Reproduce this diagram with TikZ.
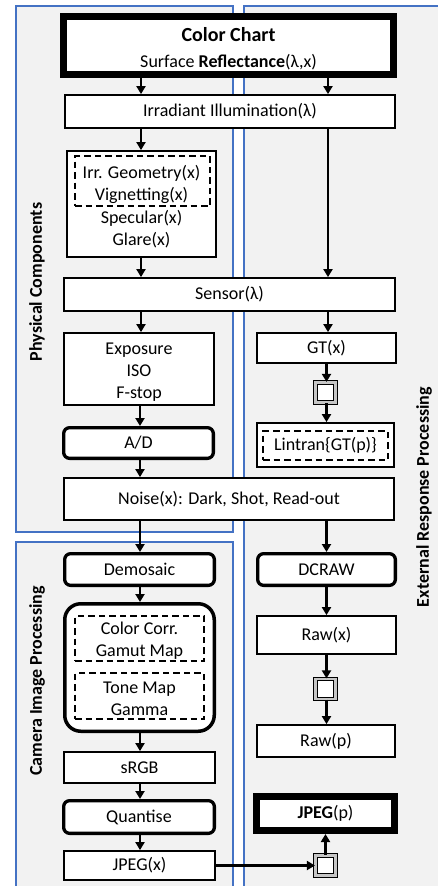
\documentclass[tikz,border=0pt]{standalone}
\usepackage{fontspec}
\setmainfont{Carlito}
\usetikzlibrary{arrows.meta}
\definecolor{panelfill}{HTML}{F2F2F2}
\definecolor{panelline}{HTML}{4472C4}
\begin{document}
\begin{tikzpicture}[x=1pt,y=-1pt,
  every node/.style={font=\fontsize{18}{22}\selectfont, inner sep=0pt},
  box/.style={draw, line width=1.8pt, fill=white, align=center},
  roundbox/.style={box, line width=3.3pt, rounded corners=6pt},
  heavybox/.style={box, line width=7pt},
  dashframe/.style={draw, line width=2pt, dash pattern=on 6.5pt off 4pt, align=center},
  relay/.style={draw, line width=1.2pt, double=gray!45, double distance=2.4pt, fill=white, minimum size=20pt},
  panel/.style={draw=panelline, line width=1.3pt, fill=panelfill},
  arr/.style={line width=2.6pt, -{Triangle[width=9pt,length=8pt]}},
  side/.style={font=\fontsize{18}{22}\selectfont\bfseries, rotate=90}
]
\useasboundingbox (0,0) rectangle (438,886);

% background panels
\begin{scope}
  \clip (0,0) rectangle (438,886);
  \draw[panel] (16,6) rectangle (233,532);
  \draw[panel] (16,542) rectangle (233,900);
  \draw[panel] (244,6) rectangle (460,900);
\end{scope}

% panel titles
\node[side] (physlabel) at (37,282) {Physical Components};
\node[side] (camlabel) at (37,681) {Camera Image Processing};
\node[side] (extlabel) at (424,497) {External Response Processing};

% column guides for the connectors
\coordinate (colL) at (141,0);
\coordinate (colR) at (328,0);
\coordinate (colLb) at (140,0);
\coordinate (colRb) at (326.5,0);

% shared stages
\node[heavybox, minimum width=330pt, minimum height=58pt] (chart) at (228.5,45.5) {};
\node[align=center] (charttext) at (228.5,48.5)
  {{\fontsize{20}{24}\selectfont\bfseries Color Chart}\\[3.5pt]Surface \textbf{Reflectance}(λ,x)};
\node[box, minimum width=330pt, minimum height=33pt] (irr) at (230,111.5) {Irradiant Illumination(λ)};

% optics
\node[box, minimum width=149pt, minimum height=106pt] (geom) at (141.5,204) {};
\node[dashframe, minimum width=135pt, minimum height=50pt] (geomframe) at (142.5,181) {};
\node[align=center] (geomtop) at (141.5,184.5) {Irr. Geometry(x)\\Vignetting(x)};
\node[align=center] (geombot) at (141.5,229.5) {Specular(x)\\Glare(x)};

\node[box, minimum width=331pt, minimum height=33pt] (sensor) at (229.5,294.5) {Sensor(λ)};

% camera capture chain
\node[box, minimum width=150pt, minimum height=72pt] (expo) at (139,369) {};
\node[align=center] (expotext) at (139,372) {Exposure\\ISO\\F-stop};
\node[roundbox, minimum width=149.7pt, minimum height=30.7pt] (ad) at (138.5,443) {A/D};
\node[box, minimum width=330pt, minimum height=42pt] (noise) at (229,499) {Noise(x): Dark, Shot, Read-out};

% external response chain
\node[box, minimum width=139pt, minimum height=30pt] (gt) at (326.5,348) {GT(x)};
\node[relay] (sq1) at (325.5,392.5) {};
\node[box, minimum width=137pt, minimum height=44pt] (lintran) at (325.5,445) {};
\node[dashframe, minimum width=125pt, minimum height=29pt] (lintranframe) at (325.5,445.5) {Lintran\{GT(p)\}};

% in-camera processing
\node[roundbox, minimum width=149.7pt, minimum height=31.7pt] (demosaic) at (139.5,569.5) {Demosaic};
\node[box, line width=3.5pt, rounded corners=16pt, minimum width=149.5pt, minimum height=127.5pt] (proc) at (139.5,667.5) {};
\node[dashframe, minimum width=129pt, minimum height=45pt] (ccframe) at (139.5,638.5) {};
\node[align=center] (cctext) at (139.5,641) {Color Corr.\\Gamut Map};
\node[dashframe, minimum width=129pt, minimum height=46pt] (toneframe) at (139.5,696) {};
\node[align=center] (tonetext) at (139.5,698.5) {Tone Map\\Gamma};
\node[box, minimum width=151pt, minimum height=31pt] (srgb) at (139.5,767.5) {sRGB};
\node[roundbox, minimum width=150.7pt, minimum height=32.7pt] (quant) at (139,817) {Quantise};
\node[box, minimum width=151pt, minimum height=29pt] (jpegx) at (139.5,865.5) {JPEG(x)};

% raw processing
\node[roundbox, minimum width=137.7pt, minimum height=31.7pt] (dcraw) at (326.5,569.5) {DCRAW};
\node[box, minimum width=139pt, minimum height=38pt] (rawx) at (326.5,635) {Raw(x)};
\node[relay] (sq2) at (325.5,689) {};
\node[box, minimum width=138pt, minimum height=32pt] (rawp) at (326,741) {Raw(p)};
\node[heavybox, minimum width=138pt, minimum height=34pt] (jpegp) at (325.5,813.5) {\textbf{JPEG}(p)};
\node[relay] (sq3) at (325.5,865.5) {};

% connectors
\draw[arr] (chart.south -| colL) -- (irr.north -| colL);
\draw[arr] (chart.south -| colR) -- (irr.north -| colR);
\draw[arr] (irr.south -| colL) -- (geom.north -| colL);
\draw[arr] (irr.south -| colR) -- (sensor.north -| colR);
\draw[arr] (geom.south -| colL) -- (sensor.north -| colL);
\draw[arr] (sensor.south -| colL) -- (expo.north -| colL);
\draw[arr] (sensor.south -| colR) -- (gt.north -| colR);
\draw[arr] (gt.south -| colRb) -- (sq1.north -| colRb);
\draw[arr] (sq1.south -| colRb) -- (lintran.north -| colRb);
\draw[arr] (expo.south -| colLb) -- (ad.north -| colLb);
\draw[arr] (ad.south -| colLb) -- (noise.north -| colLb);
\draw[arr] (noise.south -| colLb) -- (demosaic.north -| colLb);
\draw[arr] (noise.south -| colRb) -- (dcraw.north -| colRb);
\draw[arr] (demosaic.south -| colLb) -- (proc.north -| colLb);
\draw[arr] (proc.south -| colLb) -- (srgb.north -| colLb);
\draw[arr] (srgb.south -| colLb) -- (quant.north -| colLb);
\draw[arr] (quant.south -| colLb) -- (jpegx.north -| colLb);
\draw[arr] (dcraw.south -| colRb) -- (rawx.north -| colRb);
\draw[arr] (rawx.south -| colRb) -- (sq2.north -| colRb);
\draw[arr] (sq2.south -| colRb) -- (rawp.north -| colRb);
\draw[arr] (jpegx.east) -- (sq3.west);
\draw[arr] (sq3.north) -- (jpegp.south);
\end{tikzpicture}
\end{document}
